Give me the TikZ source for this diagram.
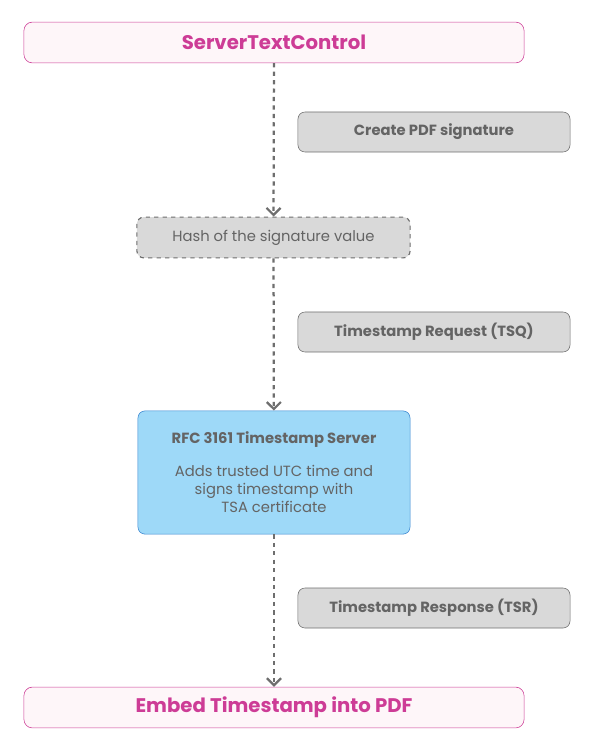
\documentclass[tikz,border=0pt]{standalone}
\usepackage{fontspec}
\setmainfont{Poppins}
\definecolor{TitlePink}{RGB}{205, 60, 150}
\definecolor{TitleFill}{RGB}{254, 246, 249}
\definecolor{NoteGray}{RGB}{217, 217, 217}
\definecolor{TextGray}{RGB}{100, 100, 100}
\definecolor{LineGray}{RGB}{110, 110, 110}
\definecolor{ServerBlue}{RGB}{158, 217, 248}
\definecolor{ServerEdge}{RGB}{58, 134, 208}
\usetikzlibrary{arrows.meta, positioning}

\begin{document}
\begin{tikzpicture}[x=0.025cm, y=-0.025cm,
        title/.style={rectangle, draw=TitlePink, fill=TitleFill, rounded corners=6pt, minimum width=12.5cm, minimum height=1.02cm, font=\fontsize{14}{16}\selectfont\bfseries, text=TitlePink},
        note/.style={rectangle, draw=LineGray, fill=NoteGray, rounded corners=5pt, minimum width=6.8cm, minimum height=1cm, font=\fontsize{10.5}{12}\selectfont\bfseries, text=TextGray},
        hashbox/.style={rectangle, draw=LineGray, dashed, thick, fill=NoteGray, rounded corners=5pt, minimum width=6.83cm, minimum height=1.02cm, font=\fontsize{10.5}{12}\selectfont, text=TextGray},
        server/.style={rectangle, draw=ServerEdge, fill=ServerBlue, rounded corners=5pt, minimum width=6.8cm, minimum height=3.08cm, align=center, font=\fontsize{10.5}{13}\selectfont, text=TextGray},
        arrow/.style={-{Straight Barb[length=5pt, width=10pt]}, line width=1.6pt, dashed, draw=LineGray}
    ]
        \useasboundingbox (0,0) rectangle (600,750);
        \node[title] (top) at (274,42.5) {ServerTextControl};
        \node[note] (sign) at (434,132) {Create PDF signature};
        \node[hashbox] (hash) at (273.5,237.5) {Hash of the signature value};
        \node[note] (tsq) at (434,332) {Timestamp Request (TSQ)};
        \node[server] (tsa) at (274,472.5) {\textbf{RFC 3161 Timestamp Server}\\[10pt]Adds trusted UTC time and\\signs timestamp with\\TSA certificate};
        \node[note] (tsr) at (434,608) {Timestamp Response (TSR)};
        \node[title] (embed) at (274,707.5) {Embed Timestamp into PDF};
        \draw[arrow] (top) -- (hash);
        \draw[arrow] (hash) -- (tsa);
        \draw[arrow] (tsa) -- (embed);
    \end{tikzpicture}
\end{document}
